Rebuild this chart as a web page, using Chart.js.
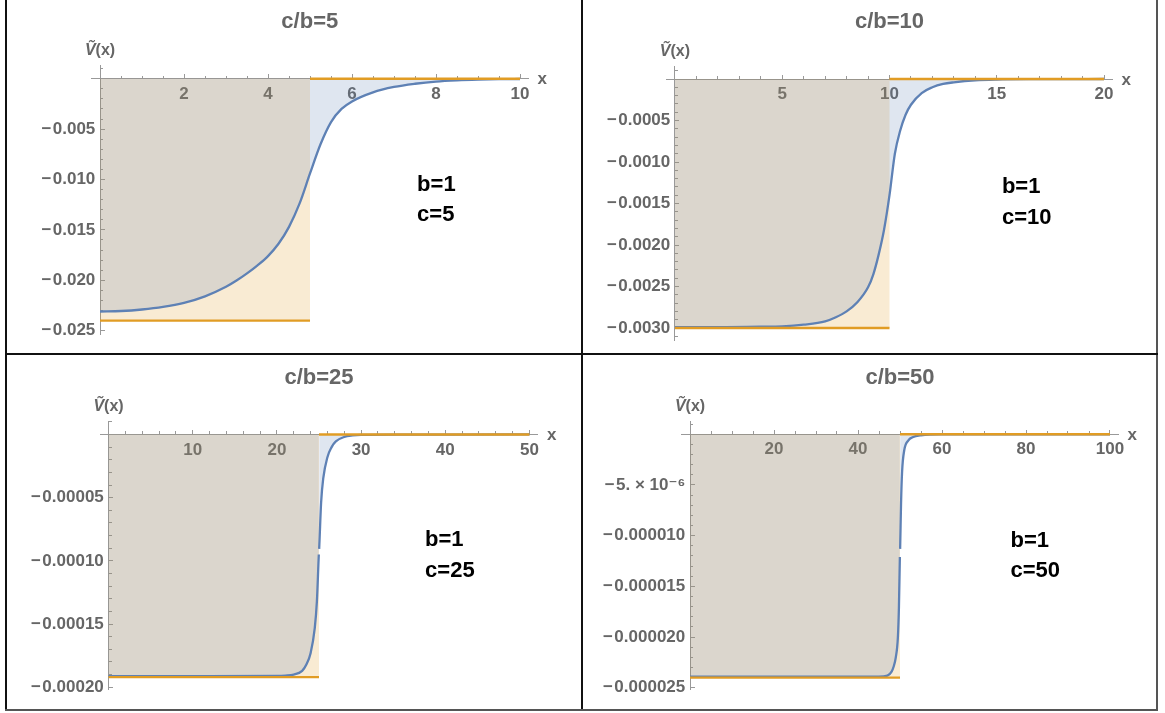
<!DOCTYPE html>
<html><head><meta charset="utf-8">
<script src="https://cdn.jsdelivr.net/npm/chart.js@4/dist/chart.umd.min.js"></script>
<style>
html,body{margin:0;padding:0;background:#fff;}
#wrap{position:relative;width:1165px;height:713px;overflow:hidden;background:#fff;}
canvas{position:absolute;}
.bd{position:absolute;}
</style></head><body>
<div id="wrap">
<canvas id="c1" width="582" height="354" style="left:0;top:0"></canvas>
<canvas id="c2" width="583" height="354" style="left:582px;top:0"></canvas>
<canvas id="c3" width="582" height="356" style="left:0;top:354px"></canvas>
<canvas id="c4" width="583" height="359" style="left:582px;top:354px"></canvas>
<div class="bd" style="left:5px;top:0;width:2px;height:711px;background:#111"></div>
<div class="bd" style="left:581px;top:0;width:2px;height:711px;background:#111"></div>
<div class="bd" style="left:1156px;top:0;width:2px;height:711px;background:#555"></div>
<div class="bd" style="left:5px;top:353px;width:1153px;height:2px;background:#111"></div>
<div class="bd" style="left:5px;top:709px;width:1153px;height:2px;background:#555"></div>
</div>
<script>
// ---------------- data ----------------
const titles = ['c/b=5', 'c/b=10', 'c/b=25', 'c/b=50'];
const bValue = 1;
const cValues = [5, 10, 25, 50];
const wellDepths = [-0.0240, -0.00300, -0.000192, -0.0000240];
const xEnds = [10, 20, 50, 100];

// panel 1 (c=5)
const x1 = [0, 0.5, 1, 1.5, 2, 2.5, 3, 3.25, 3.5, 3.75, 4, 4.25, 4.5, 4.75, 5, 5.25, 5.5, 5.75, 6, 6.5, 7, 7.5, 8, 8.5, 9, 9.5, 10];
const v1 = [-0.02310, -0.02305, -0.02290, -0.02265, -0.02225, -0.02160, -0.02065, -0.02003, -0.01932, -0.01852, -0.01760, -0.01638, -0.01470, -0.01240, -0.00940, -0.00650, -0.00430, -0.00300, -0.00225, -0.00135, -0.00082, -0.00050, -0.00028, -0.00016, -0.00009, -0.00005, -0.00003];
// panel 2 (c=10)
const x2 = [0, 2, 4, 5, 6, 7, 7.5, 8, 8.5, 9, 9.25, 9.5, 9.75, 10, 10.25, 10.5, 10.75, 11, 11.5, 12, 12.5, 13, 14, 15, 17, 20];
const v2 = [-0.002990, -0.002990, -0.002985, -0.002980, -0.002960, -0.002920, -0.002870, -0.002800, -0.002690, -0.002510, -0.002350, -0.002110, -0.001810, -0.001400, -0.000900, -0.000620, -0.000430, -0.000310, -0.000170, -0.000100, -0.000060, -0.000040, -0.000015, -0.000006, -0.000002, 0];
// panel 3 (c=25)
const x3 = [0, 10, 20, 21, 22, 23, 23.5, 24, 24.5, 24.75, 24.98, 25.02, 25.25, 25.5, 26, 26.5, 27, 28, 29, 30, 35, 50];
const v3 = [-0.0001913, -0.0001913, -0.0001911, -0.0001908, -0.0001900, -0.0001870, -0.0001820, -0.0001730, -0.0001530, -0.0001320, -0.0000950, -0.0000905, -0.0000540, -0.0000350, -0.0000180, -0.0000100, -0.0000055, -0.0000020, -0.0000008, -0.0000003, -0.0000001, 0];
// panel 4 (c=50)
const x4 = [0, 20, 40, 45, 47, 48, 48.5, 49, 49.5, 49.75, 49.97, 50.03, 50.25, 50.5, 51, 52, 53, 55, 60, 100];
const v4 = [-0.0000239, -0.0000239, -0.0000239, -0.0000239, -0.0000238, -0.0000234, -0.0000229, -0.0000220, -0.0000200, -0.0000170, -0.0000121, -0.0000113, -0.0000068, -0.0000037, -0.0000016, -0.0000006, -0.0000003, -0.0000001, 0, 0];

// tick labels
const xTicks1 = [2, 4, 6, 8, 10];          const xLabels1 = ['2', '4', '6', '8', '10'];
const xTicks2 = [5, 10, 15, 20];            const xLabels2 = ['5', '10', '15', '20'];
const xTicks3 = [10, 20, 30, 40, 50];       const xLabels3 = ['10', '20', '30', '40', '50'];
const xTicks4 = [20, 40, 60, 80, 100];      const xLabels4 = ['20', '40', '60', '80', '100'];
const yTicks1 = [-0.025, -0.020, -0.015, -0.010, -0.005];
const yLabels1 = ['\u2212\u200A0.025', '\u2212\u200A0.020', '\u2212\u200A0.015', '\u2212\u200A0.010', '\u2212\u200A0.005'];
const yTicks2 = [-0.0030, -0.0025, -0.0020, -0.0015, -0.0010, -0.0005];
const yLabels2 = ['\u2212\u200A0.0030', '\u2212\u200A0.0025', '\u2212\u200A0.0020', '\u2212\u200A0.0015', '\u2212\u200A0.0010', '\u2212\u200A0.0005'];
const yTicks3 = [-0.00020, -0.00015, -0.00010, -0.00005];
const yLabels3 = ['\u2212\u200A0.00020', '\u2212\u200A0.00015', '\u2212\u200A0.00010', '\u2212\u200A0.00005'];
const yTicks4 = [-0.000025, -0.000020, -0.000015, -0.000010, -0.000005];
const yLabels4 = ['\u2212\u200A0.000025', '\u2212\u200A0.000020', '\u2212\u200A0.000015', '\u2212\u200A0.000010', '\u2212\u200A5. \u00d7 10\u207b\u2076'];

// ---------------- styling / layout ----------------
const BLUE = '#5E81B5', ORANGE = '#E19C24', GRAY = '#666666', AXIS = '#999999';
const BLUE_FILL = 'rgba(94,129,181,0.2)', ORANGE_FILL = 'rgba(225,156,36,0.2)';
const FONT = '"Liberation Sans", Arial, "DejaVu Sans", sans-serif';
const CLEAR = 'rgba(0,0,0,0)';

function minorTicks(lo, hi, step) {
  const out = [];
  for (let k = Math.ceil(lo / step - 1e-9); k * step <= hi + step * 1e-9; k++) out.push(+(k * step).toPrecision(10));
  return out;
}

const panels = [
  {id: 'c1', xs: x1, vs: v1, xT: xTicks1, xL: xLabels1, yT: yTicks1, yL: yLabels1,
   xRange: [-0.21, 10.2], yRange: [-0.0254, 0.0013], xStep: 0.5, yStep: 0.001,
   pad: {left: 91.2, right: 53.6, bottom: 19.3}, tpad: {top: 8.8, bottom: 30.4},
   notes: [[7.55, -0.01055], [7.55, -0.01352]]},
  {id: 'c2', xs: x2, vs: v2, xT: xTicks2, xL: xLabels2, yT: yTicks2, yL: yLabels2,
   xRange: [-0.4, 20.4], yRange: [-0.00315, 0.00015], xStep: 1, yStep: 0.0001,
   pad: {left: 84.4, right: 52.4, bottom: 13.55}, tpad: {top: 8.8, bottom: 31.35},
   notes: [[15.24, -0.00130], [15.24, -0.001675]]},
  {id: 'c3', xs: x3, vs: v3, xT: xTicks3, xL: xLabels3, yT: yTicks3, yL: yLabels3,
   xRange: [-1, 51], yRange: [-0.000202, 0.0000101], xStep: 2, yStep: 0.00001,
   pad: {left: 100.1, right: 44.1, bottom: 20.2}, tpad: {top: 10.3, bottom: 31},
   notes: [[37.6, -0.0000831], [37.6, -0.000108]]},
  {id: 'c4', xs: x4, vs: v4, xT: xTicks4, xL: xLabels4, yT: yTicks4, yL: yLabels4,
   xRange: [-2, 102], yRange: [-0.0000252, 0.00000124], xStep: 5, yStep: 0.000001,
   pad: {left: 99.6, right: 46.6, bottom: 23.2}, tpad: {top: 10.3, bottom: 31},
   notes: [[76.3, -0.00001047], [76.3, -0.0000135]]}
];

const annotPlugin = {
  id: 'annot',
  afterDraw(chart, args, opts) {
    const {ctx, chartArea, scales} = chart;
    const x0 = scales.x.getPixelForValue(0), y0 = scales.y.getPixelForValue(0);
    ctx.save();
    ctx.textBaseline = 'middle';
    ctx.fillStyle = GRAY;
    // axis name x
    ctx.font = 'bold 17px ' + FONT;
    ctx.textAlign = 'left';
    ctx.fillText('x', chartArea.right + 9, y0 + 1);
    // axis name V~(x)
    const yLab = chartArea.top - 15;
    ctx.font = 'italic bold 16px ' + FONT;
    const w1 = ctx.measureText('\u1E7C').width;
    ctx.font = 'bold 16px ' + FONT;
    const w2 = ctx.measureText('(x)').width;
    const startX = x0 - (w1 + w2) / 2;
    ctx.font = 'italic bold 16px ' + FONT;
    ctx.fillText('\u1E7C', startX, yLab);
    ctx.font = 'bold 16px ' + FONT;
    ctx.fillText('(x)', startX + w1, yLab);
    // parameter notes
    ctx.fillStyle = '#000';
    ctx.font = 'bold 22px ' + FONT;
    opts.texts.forEach((t, i) => {
      const n = opts.notes[i];
      ctx.fillText(t, scales.x.getPixelForValue(n[0]), scales.y.getPixelForValue(n[1]));
    });
    ctx.restore();
  }
};

panels.forEach((p, i) => {
  const c = cValues[i], depth = wellDepths[i], xEnd = xEnds[i];
  const curve = p.xs.map((x, k) => ({x: x, y: p.vs[k]}));
  const step = [{x: 0, y: depth}, {x: c, y: depth}, {x: c, y: 0}, {x: xEnd, y: 0}];
  const xMinor = minorTicks(p.xRange[0], p.xRange[1], p.xStep);
  const yMinor = minorTicks(p.yRange[0], p.yRange[1], p.yStep);
  const tickFont = {family: FONT, size: 17, weight: 'bold'};
  const majorGrid = {display: true, drawOnChartArea: false, drawTicks: true, tickLength: -5, tickColor: AXIS, tickWidth: 1};
  const minorGrid = {display: true, drawOnChartArea: false, drawTicks: true, tickLength: -3, tickColor: AXIS, tickWidth: 1};
  new Chart(document.getElementById(p.id), {
    type: 'line',
    data: {datasets: [
      {label: 'step', data: step, borderColor: ORANGE, borderWidth: 2.4, fill: false, pointRadius: 0, tension: 0,
       segment: {borderColor: ctx => ctx.p0.parsed.x === ctx.p1.parsed.x ? CLEAR : ORANGE}},
      {label: 'V', data: curve, borderColor: BLUE, borderWidth: 2.3, backgroundColor: BLUE_FILL, fill: 'origin',
       pointRadius: 0, cubicInterpolationMode: 'monotone',
       segment: {borderColor: ctx => (ctx.p1.parsed.x - ctx.p0.parsed.x) < 0.08 ? CLEAR : BLUE}},
      {label: 'stepFill', data: step, borderWidth: 0, borderColor: CLEAR, backgroundColor: ORANGE_FILL, fill: 'origin',
       pointRadius: 0, tension: 0}
    ]},
    options: {
      responsive: false, animation: false, devicePixelRatio: 1,
      layout: {padding: {left: p.pad.left, right: p.pad.right, top: 0, bottom: p.pad.bottom}},
      plugins: {
        legend: {display: false}, tooltip: {enabled: false},
        title: {display: true, text: titles[i], fullSize: false, color: GRAY,
                font: {family: FONT, size: 22, weight: 'bold', lineHeight: 1.2}, padding: p.tpad},
        annot: {texts: ['b=' + bValue, 'c=' + c], notes: p.notes}
      },
      scales: {
        x: {type: 'linear', min: p.xRange[0], max: p.xRange[1], position: {y: 0},
            afterBuildTicks: s => { s.ticks = p.xT.map(v => ({value: v})); },
            ticks: {callback: (v, k) => p.xL[k], color: GRAY, font: tickFont, padding: 10.2, autoSkip: false, maxRotation: 0, minRotation: 0},
            grid: majorGrid, border: {display: true, color: AXIS, width: 1}},
        xm: {type: 'linear', axis: 'x', min: p.xRange[0], max: p.xRange[1], position: {y: 0},
            afterBuildTicks: s => { s.ticks = xMinor.map(v => ({value: v})); },
            ticks: {display: false, autoSkip: false}, grid: minorGrid, border: {display: false}},
        y: {type: 'linear', min: p.yRange[0], max: p.yRange[1], position: {x: 0},
            afterBuildTicks: s => { s.ticks = p.yT.map(v => ({value: v})); },
            ticks: {callback: (v, k) => p.yL[k] + ' ', color: GRAY, font: tickFont, autoSkip: false},
            grid: majorGrid, border: {display: true, color: AXIS, width: 1}},
        ym: {type: 'linear', axis: 'y', min: p.yRange[0], max: p.yRange[1], position: {x: 0},
            afterBuildTicks: s => { s.ticks = yMinor.map(v => ({value: v})); },
            ticks: {display: false, autoSkip: false}, grid: minorGrid, border: {display: false}}
      }
    },
    plugins: [annotPlugin]
  });
});
</script>
</body></html>
